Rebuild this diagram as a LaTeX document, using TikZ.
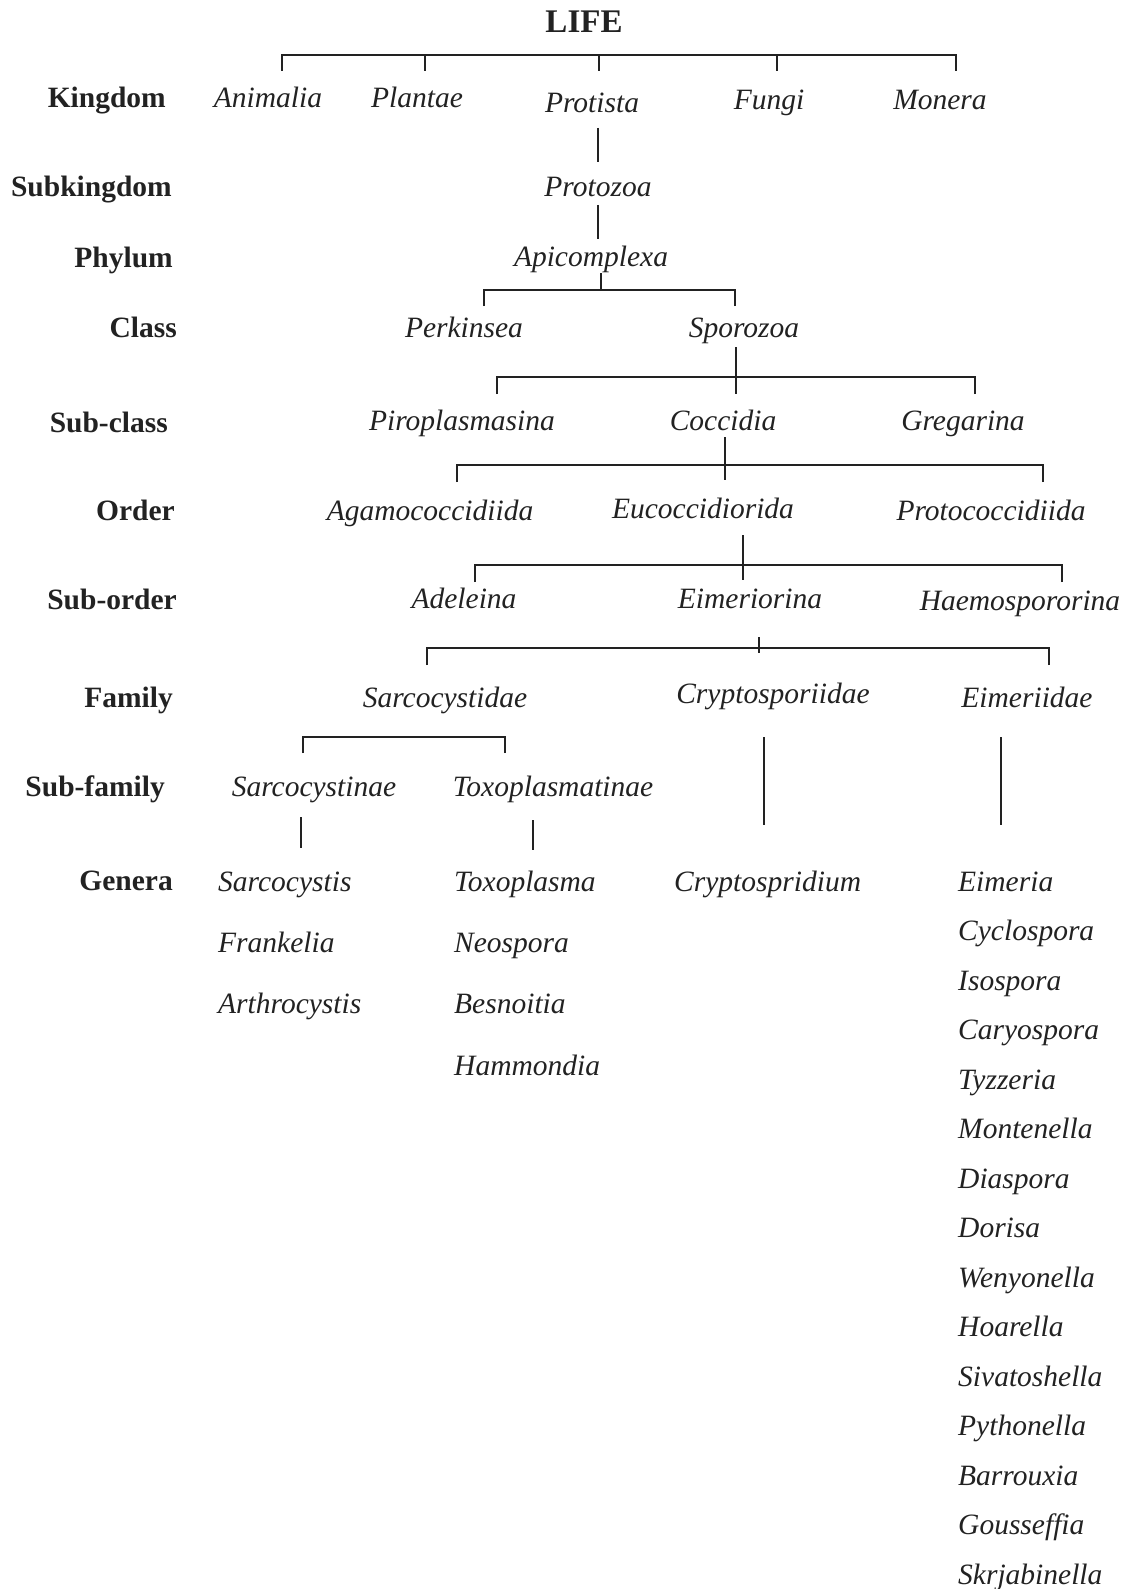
\documentclass[tikz,border=0pt]{standalone}
\usepackage{fontspec}
\setmainfont{Liberation Serif}
\usepackage{xcolor}
\definecolor{CInk}{HTML}{222222}
\usepackage{tikz}
\usetikzlibrary{positioning}
\tikzstyle{rankNode}=[anchor=base east, inner sep=0pt, text=CInk,
  font=\fontsize{29.5}{32}\selectfont\bfseries]
\tikzstyle{taxonNode}=[anchor=base, inner sep=0pt, text=CInk,
  font=\fontsize{29.5}{32}\selectfont\itshape]
\tikzstyle{genusNode}=[inner sep=0pt, text=CInk, text width=190pt, align=left,
  text height=20pt, text depth=7pt, font=\fontsize{29.5}{32}\selectfont\itshape]
\tikzstyle{barLine}=[line width=2.2pt, draw=CInk, line cap=rect]
\tikzstyle{stemLine}=[line width=1.4pt, draw=CInk]

\begin{document}
\begin{tikzpicture}[x=1pt, y=-1pt]
\useasboundingbox (0,0) rectangle (1133,1589);
\fill[white] (0,0) rectangle (1133,1589);

\node[anchor=base, inner sep=0pt, text=CInk, font=\fontsize{33}{36}\selectfont\bfseries] (life) at (584,33) {LIFE};

\node[rankNode] (kingdom) at (166,108) {Kingdom};
\node[rankNode] (subkingdom) at (172,197) {Subkingdom};
\node[rankNode] (phylum) at (173,267) {Phylum};
\node[rankNode] (class) at (177,337) {Class};
\node[rankNode] (subclass) at (168,432) {Sub-class};
\node[rankNode] (order) at (175,520) {Order};
\node[rankNode] (suborder) at (177,609) {Sub-order};
\node[rankNode] (family) at (173,707) {Family};
\node[rankNode] (subfamily) at (165,796) {Sub-family};
\node[rankNode] (genera) at (173,890) {Genera};

\node[taxonNode] (animalia) at (268,108) {Animalia};
\node[taxonNode] (plantae) at (417,108) {Plantae};
\node[taxonNode] (protista) at (592,113) {Protista};
\node[taxonNode] (fungi) at (769,110) {Fungi};
\node[taxonNode] (monera) at (940,110) {Monera};
\node[taxonNode] (protozoa) at (598,197) {Protozoa};
\node[taxonNode] (apicomplexa) at (591,266) {Apicomplexa};
\node[taxonNode] (perkinsea) at (464,337) {Perkinsea};
\node[taxonNode] (sporozoa) at (744,337) {Sporozoa};
\node[taxonNode] (piroplasmasina) at (462,430) {Piroplasmasina};
\node[taxonNode] (coccidia) at (723,430) {Coccidia};
\node[taxonNode] (gregarina) at (963,430) {Gregarina};
\node[taxonNode] (agamococcidiida) at (430,520) {Agamococcidiida};
\node[taxonNode] (eucoccidiorida) at (703,518) {Eucoccidiorida};
\node[taxonNode] (protococcidiida) at (991,520) {Protococcidiida};
\node[taxonNode] (adeleina) at (464,608) {Adeleina};
\node[taxonNode] (eimeriorina) at (750,608) {Eimeriorina};
\node[taxonNode] (haemospororina) at (1020,610) {Haemospororina};
\node[taxonNode] (sarcocystidae) at (445,707) {Sarcocystidae};
\node[taxonNode] (cryptosporiidae) at (773,703) {Cryptosporiidae};
\node[taxonNode] (eimeriidae) at (1027,707) {Eimeriidae};
\node[taxonNode] (sarcocystinae) at (314,796) {Sarcocystinae};
\node[taxonNode] (toxoplasmatinae) at (553,796) {Toxoplasmatinae};

\node[genusNode, anchor=base west] (sarcocystis) at (218,891) {Sarcocystis};
\node[genusNode, below=34pt of sarcocystis] (frankelia) {Frankelia};
\node[genusNode, below=34pt of frankelia] (arthrocystis) {Arthrocystis};

\node[genusNode, anchor=base west] (toxoplasma) at (454,891) {Toxoplasma};
\node[genusNode, below=34pt of toxoplasma] (neospora) {Neospora};
\node[genusNode, below=34pt of neospora] (besnoitia) {Besnoitia};
\node[genusNode, below=34pt of besnoitia] (hammondia) {Hammondia};

\node[genusNode, anchor=base west] (cryptospridium) at (674,891) {Cryptospridium};

\node[genusNode, anchor=base west] (eimeria) at (958,891) {Eimeria};
\node[genusNode, below=22.1pt of eimeria] (cyclospora) {Cyclospora};
\node[genusNode, below=22.1pt of cyclospora] (isospora) {Isospora};
\node[genusNode, below=22.1pt of isospora] (caryospora) {Caryospora};
\node[genusNode, below=22.1pt of caryospora] (tyzzeria) {Tyzzeria};
\node[genusNode, below=22.1pt of tyzzeria] (montenella) {Montenella};
\node[genusNode, below=22.1pt of montenella] (diaspora) {Diaspora};
\node[genusNode, below=22.1pt of diaspora] (dorisa) {Dorisa};
\node[genusNode, below=22.1pt of dorisa] (wenyonella) {Wenyonella};
\node[genusNode, below=22.1pt of wenyonella] (hoarella) {Hoarella};
\node[genusNode, below=22.1pt of hoarella] (sivatoshella) {Sivatoshella};
\node[genusNode, below=22.1pt of sivatoshella] (pythonella) {Pythonella};
\node[genusNode, below=22.1pt of pythonella] (barrouxia) {Barrouxia};
\node[genusNode, below=22.1pt of barrouxia] (gousseffia) {Gousseffia};
\node[genusNode, below=22.1pt of gousseffia] (skrjabinella) {Skrjabinella};

\coordinate (lifeBar) at (0,55);
\coordinate (toAnimalia) at (282,71);
\coordinate (toPlantae) at (425,71);
\coordinate (toProtista) at (599,71);
\coordinate (toFungi) at (777,71);
\coordinate (toMonera) at (956,71);
\draw[barLine] (toAnimalia |- lifeBar) -- (toMonera |- lifeBar);
\draw[stemLine] (toAnimalia) -- (toAnimalia |- lifeBar);
\draw[stemLine] (toPlantae) -- (toPlantae |- lifeBar);
\draw[stemLine] (toProtista) -- (toProtista |- lifeBar);
\draw[stemLine] (toFungi) -- (toFungi |- lifeBar);
\draw[stemLine] (toMonera) -- (toMonera |- lifeBar);

\coordinate (protistaDown) at (598,128);
\coordinate (protozoaUp) at (598,162);
\draw[stemLine] (protistaDown) -- (protozoaUp);
\coordinate (protozoaDown) at (598,205);
\coordinate (apicomplexaUp) at (598,239);
\draw[stemLine] (protozoaDown) -- (apicomplexaUp);

\coordinate (apicomplexaDown) at (601,273);
\coordinate (apicomplexaBar) at (0,290);
\coordinate (toPerkinsea) at (484,306);
\coordinate (toSporozoa) at (735,306);
\draw[stemLine] (apicomplexaDown) -- (apicomplexaDown |- apicomplexaBar);
\draw[barLine] (toPerkinsea |- apicomplexaBar) -- (toSporozoa |- apicomplexaBar);
\draw[stemLine] (toPerkinsea) -- (toPerkinsea |- apicomplexaBar);
\draw[stemLine] (toSporozoa) -- (toSporozoa |- apicomplexaBar);

\coordinate (sporozoaDown) at (736,347);
\coordinate (sporozoaBar) at (0,377);
\coordinate (toPiroplasmasina) at (497,394);
\coordinate (toCoccidia) at (736,394);
\coordinate (toGregarina) at (975,394);
\draw[stemLine] (sporozoaDown) -- (toCoccidia);
\draw[barLine] (toPiroplasmasina |- sporozoaBar) -- (toGregarina |- sporozoaBar);
\draw[stemLine] (toPiroplasmasina) -- (toPiroplasmasina |- sporozoaBar);
\draw[stemLine] (toGregarina) -- (toGregarina |- sporozoaBar);

\coordinate (coccidiaDown) at (725,437);
\coordinate (coccidiaBar) at (0,465);
\coordinate (coccidiaEnd) at (725,480);
\coordinate (toAgamococcidiida) at (457,482);
\coordinate (toProtococcidiida) at (1043,482);
\draw[stemLine] (coccidiaDown) -- (coccidiaEnd);
\draw[barLine] (toAgamococcidiida |- coccidiaBar) -- (toProtococcidiida |- coccidiaBar);
\draw[stemLine] (toAgamococcidiida) -- (toAgamococcidiida |- coccidiaBar);
\draw[stemLine] (toProtococcidiida) -- (toProtococcidiida |- coccidiaBar);

\coordinate (eucoccidioridaDown) at (743,535);
\coordinate (eucoccidioridaBar) at (0,565);
\coordinate (eucoccidioridaEnd) at (743,580);
\coordinate (toAdeleina) at (475,582);
\coordinate (toHaemospororina) at (1062,582);
\draw[stemLine] (eucoccidioridaDown) -- (eucoccidioridaEnd);
\draw[barLine] (toAdeleina |- eucoccidioridaBar) -- (toHaemospororina |- eucoccidioridaBar);
\draw[stemLine] (toAdeleina) -- (toAdeleina |- eucoccidioridaBar);
\draw[stemLine] (toHaemospororina) -- (toHaemospororina |- eucoccidioridaBar);

\coordinate (eimeriorinaDown) at (759,637);
\coordinate (eimeriorinaEnd) at (759,653);
\coordinate (eimeriorinaBar) at (0,648);
\coordinate (toSarcocystidae) at (427,665);
\coordinate (toEimeriidae) at (1049,665);
\draw[stemLine] (eimeriorinaDown) -- (eimeriorinaEnd);
\draw[barLine] (toSarcocystidae |- eimeriorinaBar) -- (toEimeriidae |- eimeriorinaBar);
\draw[stemLine] (toSarcocystidae) -- (toSarcocystidae |- eimeriorinaBar);
\draw[stemLine] (toEimeriidae) -- (toEimeriidae |- eimeriorinaBar);

\coordinate (sarcocystidaeBar) at (0,737);
\coordinate (toSarcocystinae) at (303,753);
\coordinate (toToxoplasmatinae) at (505,753);
\draw[barLine] (toSarcocystinae |- sarcocystidaeBar) -- (toToxoplasmatinae |- sarcocystidaeBar);
\draw[stemLine] (toSarcocystinae) -- (toSarcocystinae |- sarcocystidaeBar);
\draw[stemLine] (toToxoplasmatinae) -- (toToxoplasmatinae |- sarcocystidaeBar);

\coordinate (cryptosporiidaeDown) at (764,737);
\coordinate (cryptospridiumUp) at (764,825);
\draw[stemLine] (cryptosporiidaeDown) -- (cryptospridiumUp);
\coordinate (eimeriidaeDown) at (1001,737);
\coordinate (eimeriaUp) at (1001,825);
\draw[stemLine] (eimeriidaeDown) -- (eimeriaUp);
\coordinate (sarcocystinaeDown) at (301,817);
\coordinate (sarcocystisUp) at (301,848);
\draw[stemLine] (sarcocystinaeDown) -- (sarcocystisUp);
\coordinate (toxoplasmatinaeDown) at (533,820);
\coordinate (toxoplasmaUp) at (533,850);
\draw[stemLine] (toxoplasmatinaeDown) -- (toxoplasmaUp);
\end{tikzpicture}
\end{document}
